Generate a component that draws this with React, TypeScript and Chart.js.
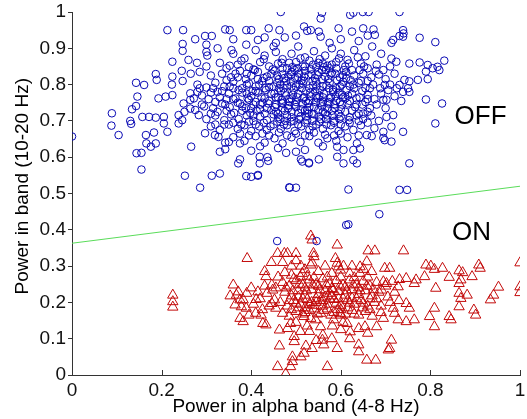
import React, { useEffect, useRef } from 'react';
import { Chart, registerables } from 'chart.js';

Chart.register(...registerables);

const FONT = '"Liberation Sans", Arial, sans-serif';

// x / y tick values
const xTickValues = [0, 0.2, 0.4, 0.6, 0.8, 1];
const yTickStep = 0.1;

// Decision boundary
const boundaryX = [0, 1];
const boundaryY = [0.363, 0.52];

// Region labels
const regionLabels = ['OFF', 'ON'];
const regionLabelX = [0.912, 0.892];
const regionLabelY = [0.712, 0.393];

// OFF class (blue circles): [alpha power, band power]
const offPoints: [number, number][] = [
  [0.0,0.657],[0.088,0.687],[0.089,0.721],[0.104,0.661],[0.13,0.70],[0.132,0.692],[0.134,0.732],[0.143,0.741],[0.144,0.611],[0.155,0.612],[0.155,0.566],[0.143,0.805],[0.161,0.799],[0.146,0.767],[0.157,0.711],[0.172,0.711],[0.187,0.709],[0.205,0.711],[0.205,0.693],[0.165,0.661],[0.183,0.668],[0.166,0.638],[0.176,0.629],[0.187,0.638],[0.187,0.829],[0.189,0.813],[0.193,0.762],[0.209,0.767],[0.224,0.771],[0.224,0.822],[0.223,0.80],[0.247,0.81],[0.224,0.863],[0.26,0.868],[0.279,0.86],[0.213,0.95],[0.248,0.95],[0.247,0.912],[0.247,0.893],[0.275,0.925],[0.297,0.934],[0.312,0.934],[0.30,0.91],[0.30,0.89],[0.302,0.88],[0.342,0.952],[0.352,0.95],[0.389,0.95],[0.40,0.95],[0.439,0.955],[0.463,0.95],[0.466,1.0],[0.518,0.96],[0.533,0.95],[0.525,0.948],[0.356,0.895],[0.389,0.91],[0.415,0.923],[0.43,0.93],[0.455,0.915],[0.213,0.67],[0.238,0.693],[0.246,0.702],[0.238,0.716],[0.249,0.748],[0.264,0.758],[0.272,0.762],[0.264,0.776],[0.251,0.725],[0.264,0.734],[0.275,0.73],[0.283,0.716],[0.266,0.629],[0.252,0.549],[0.286,0.516],[0.312,0.549],[0.33,0.555],[0.371,0.583],[0.375,0.594],[0.389,0.548],[0.40,0.546],[0.415,0.549],[0.486,0.516],[0.50,0.516],[0.40,0.618],[0.419,0.601],[0.419,0.583],[0.436,0.60],[0.438,0.59],[0.478,0.612],[0.50,0.615],[0.514,0.588],[0.529,0.583],[0.33,0.615],[0.342,0.622],[0.319,0.661],[0.327,0.656],[0.297,0.666],[0.342,0.64],[0.35,0.642],[0.375,0.638],
  [0.558,0.998],[0.555,0.982],[0.621,0.992],[0.628,0.998],[0.649,1.0],[0.662,1.0],[0.731,1.0],[0.551,0.946],[0.555,0.932],[0.595,0.955],[0.625,0.946],[0.65,0.955],[0.673,0.952],[0.676,0.937],[0.717,0.923],[0.713,0.915],[0.739,0.95],[0.74,0.941],[0.739,0.932],[0.731,0.934],[0.776,0.929],[0.811,0.917],[0.831,0.866],[0.776,0.861],[0.794,0.854],[0.805,0.845],[0.816,0.849],[0.82,0.84],[0.79,0.836],[0.772,0.813],[0.794,0.815],[0.753,0.858],[0.753,0.809],[0.742,0.813],[0.731,0.799],[0.753,0.78],[0.75,0.79],[0.739,0.78],[0.79,0.759],[0.826,0.748],[0.811,0.693],[0.753,0.583],[0.739,0.67],[0.713,0.684],[0.713,0.643],[0.698,0.647],[0.695,0.67],[0.702,0.711],[0.717,0.716],[0.698,0.799],[0.706,0.785],[0.695,0.758],[0.702,0.758],[0.713,0.872],[0.724,0.863],[0.485,0.517],[0.617,0.511],[0.731,0.51],[0.748,0.51],[0.415,0.551],[0.511,0.594],[0.529,0.585],[0.551,0.594],[0.592,0.601],[0.606,0.583],[0.628,0.592],[0.636,0.583],[0.658,0.661],[0.669,0.658],[0.695,0.653],[0.636,0.638],[0.628,0.62],[0.643,0.624],[0.592,0.629],[0.606,0.62],[0.686,0.443],[0.617,0.415],[0.458,0.369],[0.546,0.369],[0.612,0.413],
  [0.36,0.885],[0.385,0.872],[0.41,0.895],[0.43,0.88],[0.455,0.89],[0.47,0.87],[0.49,0.885],[0.505,0.905],[0.52,0.875],[0.54,0.892],[0.565,0.88],[0.58,0.9],[0.6,0.885],[0.615,0.868],[0.63,0.895],[0.655,0.878],[0.67,0.905],[0.69,0.885],[0.45,0.905],[0.575,0.915],[0.6,0.925],[0.64,0.92],[0.66,0.935],[0.5,0.935],[0.475,0.93],[0.36,0.925],[0.325,0.9],
  [0.33,0.86],[0.345,0.845],[0.37,0.855],[0.395,0.848],[0.42,0.862],[0.44,0.85],[0.46,0.858],[0.48,0.845],[0.5,0.862],[0.515,0.85],[0.53,0.866],[0.545,0.848],[0.56,0.858],[0.575,0.845],[0.59,0.862],[0.61,0.85],[0.625,0.84],[0.645,0.858],[0.66,0.845],[0.68,0.855],[0.695,0.84],[0.71,0.85],[0.3,0.85],[0.285,0.835],
  [0.31,0.825],[0.335,0.83],[0.355,0.82],[0.375,0.838],[0.4,0.825],[0.415,0.835],[0.435,0.822],[0.452,0.838],[0.47,0.828],[0.49,0.835],[0.505,0.82],[0.52,0.838],[0.535,0.828],[0.55,0.835],[0.565,0.822],[0.58,0.832],[0.598,0.82],[0.612,0.835],[0.63,0.825],[0.65,0.83],[0.668,0.82],[0.685,0.828],[0.7,0.815],[0.72,0.83],[0.265,0.83],[0.245,0.838],
  [0.28,0.8],[0.3,0.792],[0.32,0.805],[0.34,0.795],[0.36,0.808],[0.38,0.79],[0.395,0.803],[0.41,0.795],[0.425,0.81],[0.44,0.793],[0.458,0.805],[0.472,0.79],[0.488,0.808],[0.5,0.795],[0.515,0.803],[0.53,0.79],[0.545,0.808],[0.56,0.795],[0.575,0.805],[0.59,0.79],[0.605,0.808],[0.62,0.796],[0.64,0.805],[0.655,0.79],[0.672,0.8],[0.688,0.79],[0.71,0.8],[0.725,0.79],
  [0.29,0.77],[0.31,0.778],[0.33,0.765],[0.35,0.775],[0.365,0.762],[0.38,0.778],[0.4,0.768],[0.415,0.778],[0.43,0.762],[0.445,0.775],[0.46,0.765],[0.475,0.778],[0.49,0.762],[0.505,0.775],[0.518,0.765],[0.532,0.778],[0.548,0.762],[0.562,0.775],[0.578,0.765],[0.595,0.778],[0.61,0.762],[0.625,0.775],[0.642,0.765],[0.66,0.772],[0.675,0.76],[0.69,0.775],[0.72,0.768],[0.735,0.755],
  [0.295,0.74],[0.315,0.735],[0.335,0.748],[0.352,0.738],[0.37,0.75],[0.388,0.735],[0.405,0.745],[0.42,0.732],[0.438,0.748],[0.453,0.738],[0.468,0.75],[0.482,0.735],[0.497,0.745],[0.512,0.732],[0.527,0.748],[0.54,0.738],[0.555,0.75],[0.57,0.735],[0.585,0.745],[0.6,0.732],[0.615,0.748],[0.632,0.738],[0.648,0.745],[0.665,0.735],[0.68,0.745],[0.7,0.735],
  [0.3,0.705],[0.32,0.715],[0.34,0.702],[0.355,0.718],[0.372,0.705],[0.39,0.715],[0.405,0.7],[0.42,0.712],[0.435,0.702],[0.45,0.718],[0.465,0.705],[0.48,0.715],[0.495,0.7],[0.51,0.712],[0.525,0.702],[0.54,0.718],[0.555,0.705],[0.57,0.715],[0.585,0.7],[0.6,0.712],[0.618,0.702],[0.635,0.715],[0.65,0.705],[0.668,0.715],[0.685,0.7],
  [0.31,0.685],[0.33,0.675],[0.35,0.69],[0.37,0.678],[0.385,0.688],[0.4,0.672],[0.418,0.685],[0.435,0.675],[0.45,0.69],[0.466,0.678],[0.48,0.688],[0.497,0.672],[0.512,0.685],[0.53,0.675],[0.545,0.69],[0.56,0.678],[0.578,0.688],[0.595,0.672],[0.61,0.685],[0.628,0.675],[0.645,0.688],[0.675,0.68],
  [0.36,0.655],[0.385,0.645],[0.41,0.658],[0.43,0.64],[0.452,0.652],[0.47,0.638],[0.49,0.655],[0.51,0.642],[0.53,0.658],[0.55,0.64],[0.57,0.652],[0.59,0.645],[0.615,0.655],[0.64,0.66],[0.46,0.625],[0.52,0.62],[0.56,0.63],[0.42,0.63],
  [0.462,0.79],[0.478,0.81],[0.493,0.772],[0.507,0.83],[0.522,0.755],[0.537,0.81],[0.552,0.77],[0.567,0.84],[0.583,0.785],[0.598,0.752],[0.612,0.818],[0.468,0.758],[0.483,0.742],[0.498,0.818],[0.513,0.79],[0.528,0.72],[0.543,0.782],[0.558,0.815],[0.573,0.752],[0.588,0.83],[0.603,0.772],[0.47,0.845],[0.485,0.86],[0.52,0.85],[0.55,0.86],[0.58,0.855],[0.455,0.725],[0.49,0.725],[0.525,0.73],[0.56,0.725],[0.595,0.72],[0.38,0.74],[0.395,0.758],[0.41,0.782],[0.425,0.75],[0.44,0.81],[0.36,0.79],[0.345,0.76],[0.37,0.82],[0.39,0.83],[0.405,0.715],
  [0.352,0.852],[0.378,0.866],[0.405,0.842],[0.428,0.87],[0.448,0.842],[0.468,0.86],[0.492,0.848],[0.51,0.872],[0.538,0.855],[0.553,0.87],[0.57,0.852],[0.596,0.872],[0.618,0.858],[0.638,0.875],[0.652,0.85],
  [0.345,0.812],[0.365,0.83],[0.388,0.815],[0.408,0.84],[0.428,0.818],[0.445,0.83],[0.462,0.815],[0.482,0.822],[0.497,0.84],[0.512,0.812],[0.528,0.826],[0.542,0.818],[0.558,0.84],[0.572,0.815],[0.59,0.845],[0.605,0.826],[0.622,0.812],[0.642,0.84],[0.66,0.81],[0.678,0.838],
  [0.335,0.782],[0.352,0.795],[0.372,0.785],[0.39,0.8],[0.403,0.782],[0.418,0.8],[0.433,0.785],[0.45,0.795],[0.466,0.782],[0.48,0.798],[0.495,0.785],[0.508,0.8],[0.523,0.782],[0.538,0.798],[0.553,0.785],[0.568,0.798],[0.583,0.78],[0.598,0.795],[0.613,0.785],[0.628,0.8],[0.648,0.782],[0.665,0.79],
  [0.32,0.752],[0.342,0.745],[0.36,0.76],[0.375,0.748],[0.392,0.762],[0.41,0.752],[0.423,0.765],[0.44,0.755],[0.455,0.765],[0.47,0.748],[0.485,0.76],[0.5,0.752],[0.515,0.762],[0.53,0.755],[0.545,0.768],[0.56,0.752],[0.575,0.762],[0.59,0.755],[0.605,0.765],[0.62,0.755],[0.635,0.762],[0.655,0.752],
  [0.325,0.725],[0.345,0.728],[0.362,0.722],[0.38,0.728],[0.398,0.722],[0.412,0.728],[0.43,0.72],[0.445,0.73],[0.46,0.72],[0.475,0.728],[0.505,0.722],[0.52,0.728],[0.535,0.72],[0.55,0.73],[0.565,0.72],[0.58,0.728],[0.61,0.725],[0.625,0.728],[0.64,0.72],[0.66,0.725],
  [0.34,0.69],[0.36,0.695],[0.378,0.69],[0.395,0.698],[0.41,0.69],[0.428,0.695],[0.443,0.685],[0.458,0.698],[0.473,0.69],[0.488,0.698],[0.505,0.69],[0.52,0.695],[0.537,0.685],[0.552,0.698],[0.568,0.69],[0.585,0.695],[0.6,0.69],[0.62,0.695],[0.64,0.7],[0.66,0.695],
  [0.375,0.665],[0.395,0.66],[0.425,0.665],[0.44,0.66],[0.462,0.668],[0.48,0.66],[0.5,0.665],[0.52,0.66],[0.54,0.668],[0.565,0.662],[0.585,0.66],[0.6,0.665],
  [0.285,0.79],[0.29,0.745],[0.305,0.76],[0.315,0.79],[0.325,0.78],[0.31,0.72],[0.32,0.69],[0.28,0.78],
  [0.452,0.775],[0.465,0.8],[0.478,0.77],[0.49,0.795],[0.503,0.765],[0.517,0.81],[0.532,0.768],[0.546,0.795],[0.56,0.765],[0.574,0.79],[0.588,0.768],[0.602,0.8],[0.616,0.77],
  [0.456,0.745],[0.47,0.735],[0.486,0.752],[0.5,0.738],[0.514,0.748],[0.53,0.738],[0.544,0.752],[0.558,0.74],[0.572,0.748],[0.587,0.735],[0.603,0.745],
  [0.458,0.825],[0.474,0.818],[0.489,0.828],[0.503,0.845],[0.518,0.822],[0.533,0.842],[0.548,0.826],[0.562,0.848],[0.577,0.828],[0.592,0.812],[0.607,0.84],
  [0.46,0.71],[0.476,0.7],[0.49,0.71],[0.507,0.705],[0.522,0.712],[0.537,0.7],[0.552,0.712],[0.567,0.705],[0.582,0.715],[0.597,0.705],
  [0.42,0.745],[0.415,0.815],[0.43,0.79],[0.435,0.735],[0.4,0.735],[0.39,0.775],[0.63,0.79],[0.635,0.745],[0.645,0.81],[0.62,0.71],[0.65,0.72],[0.66,0.76]
];

// ON class (red triangles): [alpha power, band power]
const onPoints: [number, number][] = [
  [0.225,0.22],[0.225,0.202],[0.225,0.187],[0.391,0.321],[0.459,0.335],[0.474,0.335],[0.481,0.335],[0.50,0.335],[0.533,0.383],[0.536,0.372],[0.592,0.358],[0.539,0.335],[0.54,0.326],[0.536,0.309],[0.533,0.303],[0.511,0.30],[0.514,0.28],[0.588,0.321],[0.592,0.308],[0.595,0.298],[0.599,0.289],[0.43,0.285],[0.433,0.271],[0.36,0.248],[0.353,0.218],[0.367,0.22],[0.371,0.229],[0.375,0.207],[0.382,0.207],[0.389,0.184],[0.378,0.188],[0.364,0.193],[0.375,0.156],[0.382,0.147],[0.415,0.229],[0.411,0.208],[0.422,0.165],[0.426,0.142],[0.433,0.138],[0.446,0.248],[0.448,0.234],[0.452,0.207],[0.446,0.197],[0.455,0.184],[0.463,0.124],[0.481,0.128],[0.488,0.142],[0.496,0.106],[0.496,0.092],[0.463,0.08],[0.459,0.023],[0.477,0.003],[0.488,0.023],[0.492,0.037],[0.492,0.05],[0.522,0.08],[0.536,0.073],[0.518,0.06],[0.511,0.05],[0.559,0.096],[0.562,0.083],[0.592,0.073],[0.57,0.023],[0.525,0.135],[0.555,0.133],[0.581,0.135],[0.518,0.161],[0.533,0.156],[0.544,0.152],
  [0.661,0.342],[0.676,0.342],[0.74,0.342],[0.606,0.30],[0.625,0.30],[0.643,0.298],[0.658,0.312],[0.651,0.291],[0.669,0.285],[0.643,0.28],[0.698,0.294],[0.709,0.294],[0.79,0.303],[0.801,0.30],[0.827,0.294],[0.809,0.291],[0.864,0.287],[0.872,0.282],[0.868,0.262],[0.908,0.303],[0.911,0.294],[0.893,0.271],[0.842,0.269],[0.787,0.271],[1.0,0.309],[1.0,0.243],[1.0,0.227],[0.952,0.242],[0.941,0.22],[0.934,0.207],[0.864,0.252],[0.864,0.225],[0.868,0.211],[0.864,0.188],[0.882,0.22],[0.897,0.179],[0.901,0.165],[0.842,0.161],[0.846,0.152],[0.812,0.239],[0.809,0.184],[0.798,0.161],[0.809,0.133],[0.768,0.262],[0.764,0.252],[0.746,0.266],[0.731,0.263],[0.728,0.243],[0.695,0.257],[0.702,0.252],[0.691,0.234],[0.746,0.197],[0.753,0.184],[0.764,0.152],[0.746,0.147],[0.728,0.152],[0.72,0.17],[0.717,0.184],[0.695,0.156],[0.68,0.133],[0.654,0.133],[0.64,0.128],[0.713,0.096],[0.709,0.073],[0.706,0.069],[0.64,0.083],[0.64,0.064],[0.658,0.041],[0.678,0.041],[0.599,0.17],[0.584,0.152],[0.614,0.142],[0.621,0.119],
  [0.47,0.255],[0.485,0.245],[0.5,0.26],[0.515,0.248],[0.53,0.262],[0.545,0.25],[0.56,0.265],[0.575,0.252],[0.59,0.26],[0.605,0.248],[0.62,0.262],[0.635,0.25],[0.65,0.258],[0.665,0.245],[0.68,0.255],[0.7,0.245],[0.715,0.258],
  [0.475,0.228],[0.49,0.218],[0.505,0.232],[0.52,0.22],[0.535,0.235],[0.55,0.222],[0.565,0.232],[0.58,0.218],[0.595,0.23],[0.61,0.22],[0.625,0.235],[0.64,0.222],[0.655,0.232],[0.67,0.218],[0.685,0.228],[0.705,0.215],[0.72,0.228],
  [0.465,0.2],[0.48,0.19],[0.495,0.205],[0.51,0.195],[0.525,0.208],[0.54,0.192],[0.555,0.205],[0.57,0.195],[0.585,0.208],[0.6,0.192],[0.615,0.205],[0.63,0.195],[0.645,0.205],[0.66,0.19],[0.675,0.2],[0.69,0.19],[0.71,0.2],[0.73,0.205],
  [0.47,0.17],[0.485,0.162],[0.5,0.175],[0.515,0.168],[0.53,0.178],[0.548,0.168],[0.562,0.178],[0.578,0.165],[0.593,0.18],[0.61,0.168],[0.625,0.178],[0.64,0.165],[0.655,0.175],[0.67,0.162],[0.69,0.172],
  [0.4,0.24],[0.39,0.225],[0.405,0.195],[0.42,0.21],[0.43,0.245],[0.435,0.225],[0.44,0.19],[0.425,0.18],[0.41,0.17],[0.395,0.165],[0.455,0.24],[0.46,0.27],[0.475,0.282],[0.49,0.275],[0.52,0.29],[0.55,0.285],[0.565,0.3],[0.58,0.28],[0.62,0.28],[0.49,0.3],[0.5,0.315],[0.47,0.31],[0.445,0.31],
  [0.5,0.145],[0.53,0.12],[0.56,0.11],[0.6,0.125],[0.62,0.1],[0.58,0.1],[0.545,0.095],[0.51,0.12],[0.66,0.115],[0.605,0.145],
  [0.505,0.215],[0.52,0.24],[0.535,0.2],[0.55,0.245],[0.565,0.215],[0.58,0.238],[0.595,0.21],[0.61,0.242],[0.625,0.212],[0.64,0.24],[0.56,0.19],[0.6,0.18],[0.52,0.185],[0.575,0.225],[0.545,0.21],
  [0.478,0.24],[0.493,0.232],[0.508,0.25],[0.523,0.232],[0.538,0.248],[0.553,0.235],[0.568,0.248],[0.583,0.235],[0.598,0.245],[0.613,0.232],[0.628,0.248],[0.643,0.232],[0.658,0.245],[0.673,0.235],
  [0.485,0.205],[0.5,0.198],[0.515,0.21],[0.53,0.195],[0.545,0.2],[0.56,0.205],[0.575,0.21],[0.59,0.198],[0.605,0.21],[0.62,0.198],[0.635,0.21],[0.65,0.198],[0.665,0.21],[0.68,0.21],
  [0.49,0.18],[0.505,0.185],[0.52,0.172],[0.54,0.182],[0.555,0.17],[0.57,0.182],[0.585,0.172],[0.6,0.165],[0.615,0.185],[0.63,0.168],[0.648,0.185],[0.665,0.18],
  [0.495,0.265],[0.51,0.27],[0.525,0.272],[0.54,0.268],[0.57,0.27],[0.6,0.27],[0.63,0.268],[0.66,0.27]
];

const yTitle = 'Power in band (10-20 Hz)';
const xTitle = 'Power in alpha band (4-8 Hz)';

const decorPlugin = {
  id: 'decor',
  afterDraw(chart: any) {
    const { ctx, chartArea, scales } = chart;
    const xs = scales.x;
    const ys = scales.y;
    ctx.save();
    // inward x tick marks
    ctx.strokeStyle = '#333';
    ctx.lineWidth = 1;
    for (const t of xTickValues) {
      const px = Math.round(xs.getPixelForValue(t)) + 0.5;
      ctx.beginPath();
      ctx.moveTo(px, chartArea.bottom);
      ctx.lineTo(px, chartArea.bottom - 5);
      ctx.stroke();
    }
    // region labels
    ctx.fillStyle = '#000';
    ctx.font = `26px ${FONT}`;
    ctx.textAlign = 'center';
    ctx.textBaseline = 'middle';
    regionLabels.forEach((txt, i) => {
      ctx.fillText(txt, xs.getPixelForValue(regionLabelX[i]), ys.getPixelForValue(regionLabelY[i]));
    });
    // y title
    ctx.font = `19px ${FONT}`;
    ctx.translate(23, chartArea.top + (chartArea.bottom - chartArea.top) * 0.48);
    ctx.rotate(-Math.PI / 2);
    ctx.fillText(yTitle, 0, 0);
    ctx.restore();
  },
};

export default function App() {
  const ref = useRef<HTMLCanvasElement | null>(null);
  useEffect(() => {
    document.body.style.margin = '0';
    const canvas = ref.current;
    if (!canvas) return;
    const chart = new Chart(canvas, {
      type: 'scatter',
      data: {
        datasets: [
          {
            label: 'boundary',
            type: 'line',
            data: boundaryX.map((x, i) => ({ x, y: boundaryY[i] })),
            borderColor: 'rgb(90,220,90)',
            borderWidth: 1,
            pointRadius: 0,
            fill: false,
          } as any,
          {
            label: 'OFF',
            data: offPoints.map(([x, y]) => ({ x, y })),
            pointStyle: 'circle',
            pointRadius: 3.8,
            borderWidth: 1,
            borderColor: 'rgb(10,10,180)',
            backgroundColor: 'rgba(0,0,0,0)',
          },
          {
            label: 'ON',
            data: onPoints.map(([x, y]) => ({ x, y })),
            pointStyle: 'triangle',
            pointRadius: 6,
            borderWidth: 1,
            borderColor: 'rgb(195,10,10)',
            backgroundColor: 'rgba(0,0,0,0)',
          },
        ],
      },
      options: {
        responsive: false,
        animation: false,
        layout: { padding: { left: 0, top: 12, right: 2, bottom: 0 } },
        plugins: { legend: { display: false }, tooltip: { enabled: false } },
        scales: {
          x: {
            type: 'linear',
            min: 0,
            max: 1,
            afterBuildTicks: (scale: any) => {
              scale.ticks = xTickValues.map((v) => ({ value: v }));
            },
            afterFit: (scale: any) => {
              scale.height = 44;
              scale.paddingLeft = 0;
              scale.paddingRight = 0;
            },
            ticks: {
              color: '#111',
              font: { family: FONT, size: 19 },
              padding: 4,
              maxRotation: 0,
              callback: (v: any) => String(Math.round(Number(v) * 10) / 10),
            },
            grid: { drawOnChartArea: false, drawTicks: false },
            border: { display: true, color: '#333', width: 1 },
            title: {
              display: true,
              text: xTitle,
              color: '#000',
              font: { family: FONT, size: 19, lineHeight: 1.2 },
              padding: { top: 0, bottom: 1 },
            },
          },
          y: {
            type: 'linear',
            min: 0,
            max: 1,
            ticks: {
              stepSize: yTickStep,
              color: '#111',
              font: { family: FONT, size: 19 },
              padding: 2,
              callback: (v: any) => String(Math.round(Number(v) * 10) / 10),
            },
            afterFit: (scale: any) => {
              scale.width = 72;
              scale.paddingTop = 0;
              scale.paddingBottom = 0;
            },
            grid: { drawOnChartArea: false, drawTicks: true, tickLength: 4, color: '#333' },
            border: { display: true, color: '#333', width: 1 },
          },
        },
      },
      plugins: [decorPlugin],
    });
    return () => chart.destroy();
  }, []);
  return (
    <div style={{ width: 527, height: 419, background: '#fff' }}>
      <canvas ref={ref} width={527} height={419} style={{ display: 'block' }} />
    </div>
  );
}
